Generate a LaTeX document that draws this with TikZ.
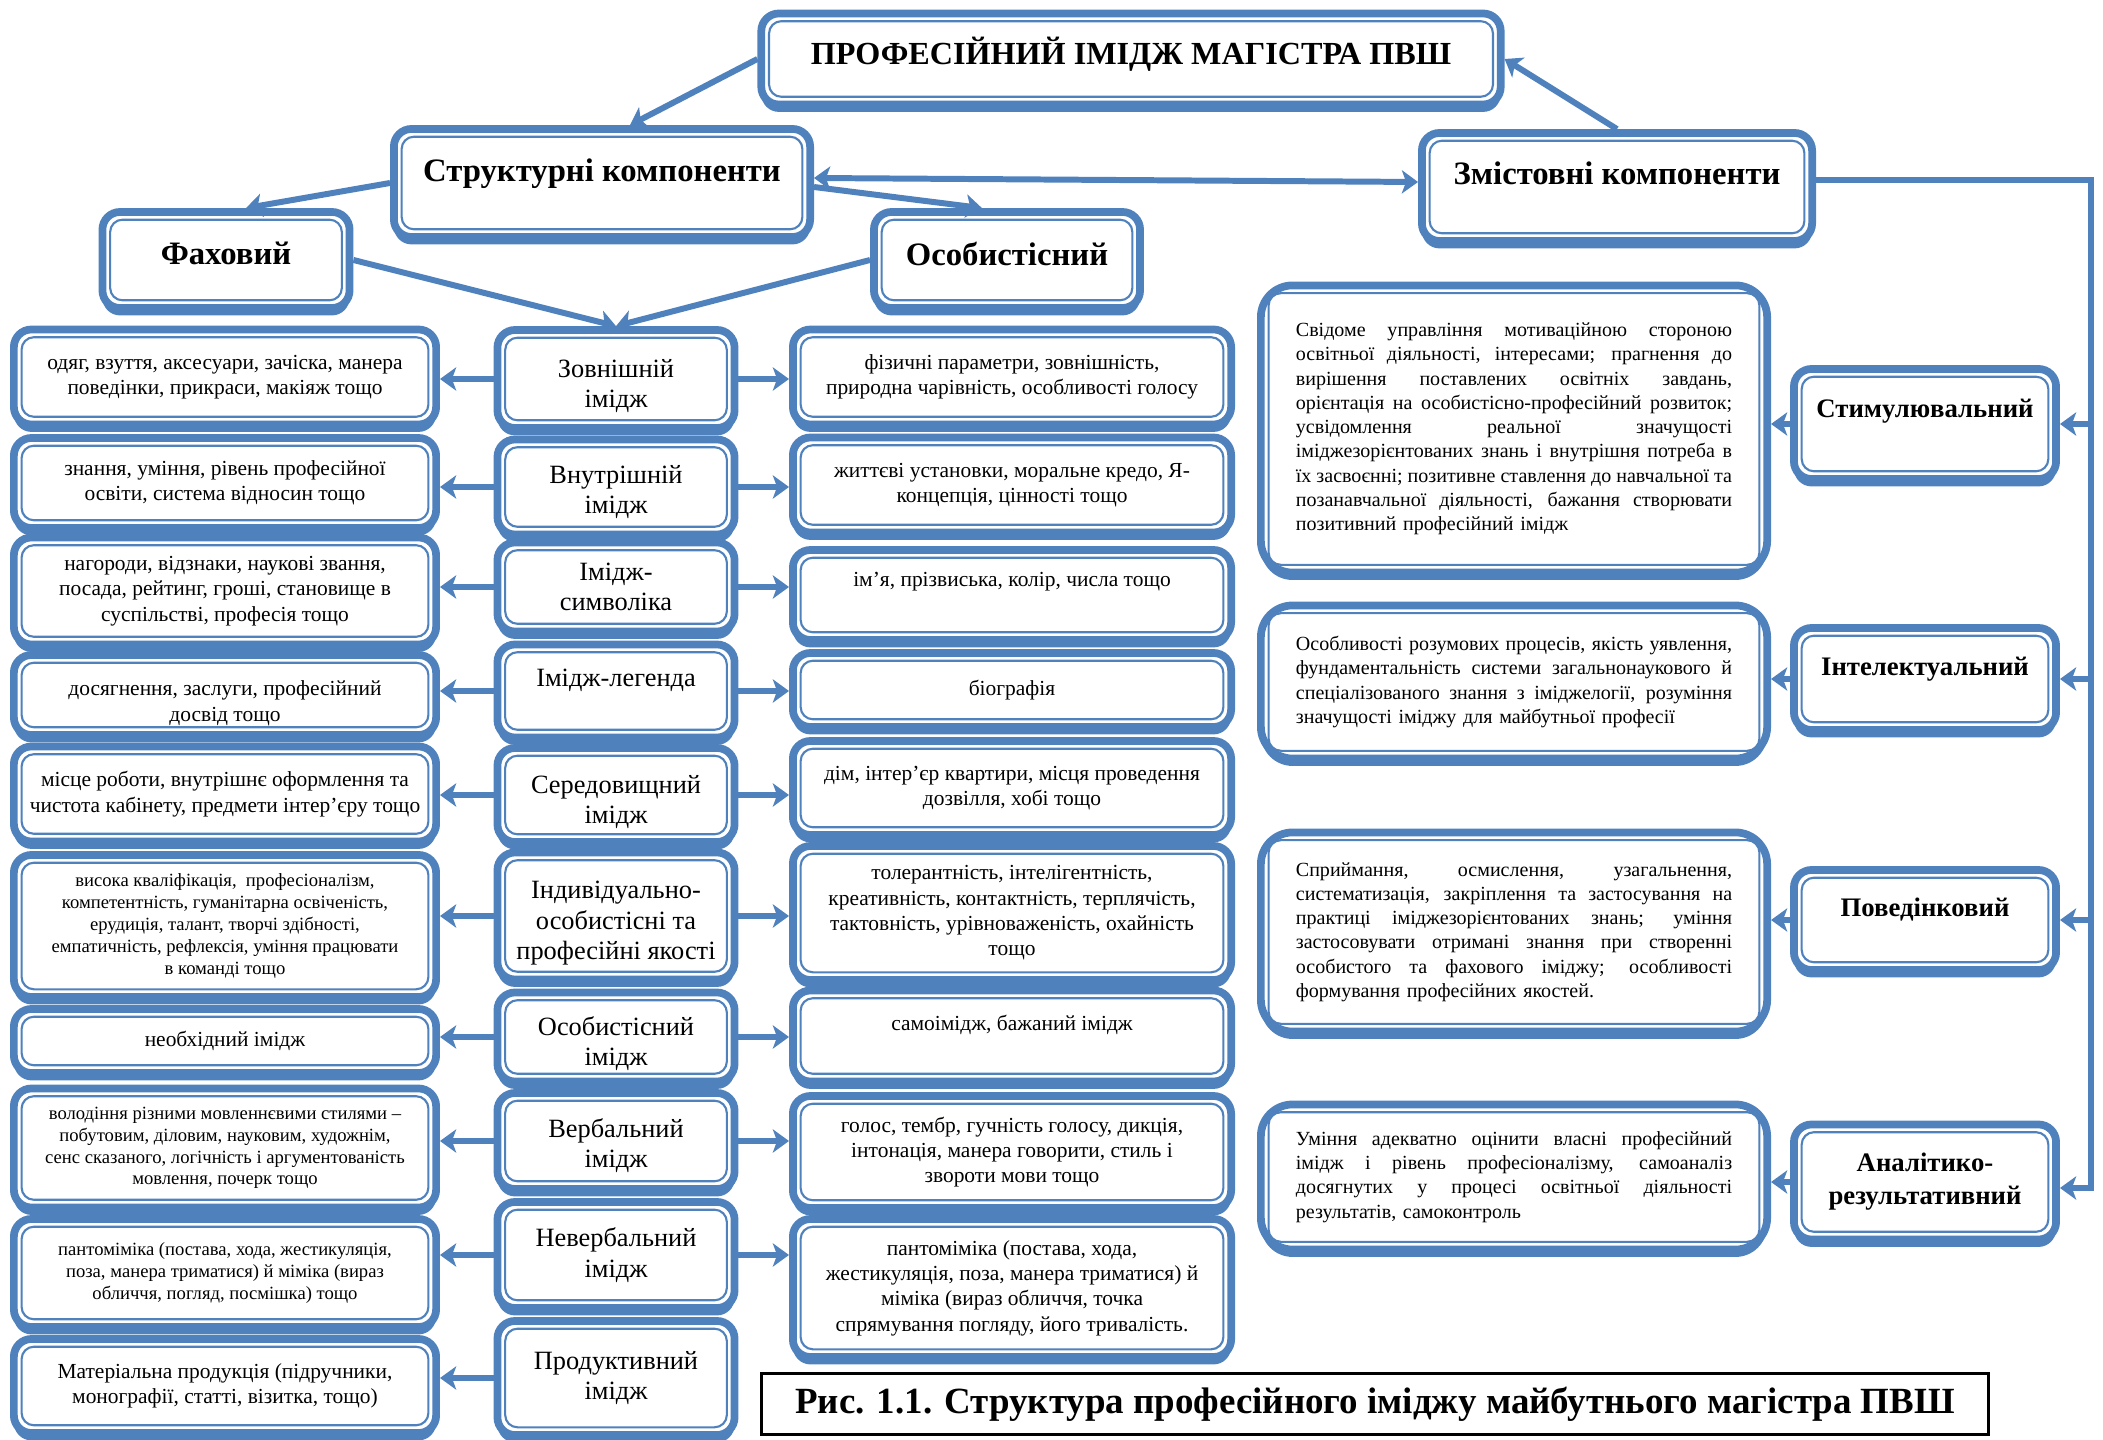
\documentclass[tikz,border=0pt]{standalone}
\usepackage{fontspec}
\setmainfont{Liberation Serif}
\usepackage{tikz}
\usetikzlibrary{arrows.meta,calc,shadows}

\definecolor{acc}{RGB}{79,129,189}
\newcommand{\fsTitle}{\fontsize{9.15}{11}\selectfont\bfseries}
\newcommand{\fsHead}{\fontsize{9.3}{11}\selectfont\bfseries}
\newcommand{\fsSub}{\fontsize{7.6}{9.4}\selectfont\bfseries}
\newcommand{\fsMid}{\fontsize{7.5}{8.6}\selectfont}
\newcommand{\fsSide}{\fontsize{6.1}{7.2}\selectfont}
\newcommand{\fsSmall}{\fontsize{5.3}{6.2}\selectfont}
\newcommand{\fsDesc}{\fontsize{5.7}{6.9}\selectfont}
\newcommand{\fsCap}{\fontsize{10.5}{12}\selectfont\bfseries}
% justified line and a strut that pushes text down
\newcommand{\jl}[1]{\makebox[\linewidth][s]{\spaceskip=0pt\xspaceskip=0pt\relax #1}}
\newcommand{\dn}[1]{\rule{0pt}{#1}}

\tikzset{
  bx/.style={draw=acc, line width=2.2pt, rounded corners=5pt, fill=white,
    align=center, inner sep=2pt,
    drop shadow={shadow xshift=0pt, shadow yshift=-2.1pt, fill=acc, opacity=1},
    path picture={\draw[acc, line width=0.6pt, rounded corners=3.5pt]
      ([shift={(2.2pt,2.2pt)}]path picture bounding box.south west) rectangle
      ([shift={(-2.2pt,-2.2pt)}]path picture bounding box.north east);}},
  head/.style={bx, font=\fsHead},
  sub/.style={bx, font=\fsSub, minimum width=2.62cm},
  lcol/.style={bx, font=\fsSide, minimum width=4.22cm},
  mcol/.style={bx, font=\fsMid, minimum width=2.37cm},
  rcol/.style={bx, font=\fsSide, minimum width=4.38cm},
  dbx/.style={bx, rounded corners=9pt, font=\fsDesc, align=left,
    text width=4.36cm, minimum width=5.06cm},
  arr/.style={draw=acc, line width=1.7pt, -{Stealth[length=4.6pt,width=6.6pt,inset=1.2pt]}},
  arr2/.style={arr, {Stealth[length=4.6pt,width=6.6pt,inset=1.2pt]}-{Stealth[length=4.6pt,width=6.6pt,inset=1.2pt]}},
}

\begin{document}
\begin{tikzpicture}[x=0.01cm,y=-0.01cm]
\useasboundingbox (0,0) rectangle (2103,1440);

% Top levels
\node[bx, font=\fsTitle, text depth=4.8pt, minimum width=7.39cm, minimum height=0.91cm] (title) at (1131,59) {ПРОФЕСІЙНИЙ ІМІДЖ МАГІСТРА ПВШ};
\node[head, text depth=7.3pt, minimum width=4.16cm, minimum height=1.08cm] (S) at (602,183) {Структурні компоненти};
\node[head, text depth=7.6pt, minimum width=3.90cm, minimum height=1.08cm] (Z) at (1617,187) {Змістовні компоненти};
\node[head, text depth=3.8pt, minimum width=2.47cm, minimum height=0.96cm] (F) at (226,260) {Фаховий};
\node[head, text depth=3.8pt, minimum width=2.66cm, minimum height=0.96cm] (O) at (1007,260) {Особистісний};

% Middle column
\node[mcol, minimum height=0.98cm] (m1) at (616,379) {\dn{9pt}Зовнішній\\імідж};
\node[mcol, minimum height=0.95cm] (m2) at (616,487) {\dn{8.2pt}Внутрішній\\імідж};
\node[mcol, minimum height=0.89cm] (m3) at (616,587) {Імідж-\\символіка};
\node[mcol, text depth=7.5pt, minimum height=0.93cm] (m4) at (616,691) {Імідж-легенда};
\node[mcol, minimum height=0.94cm] (m5) at (616,795) {\dn{9pt}Середовищний\\імідж};
\node[mcol, minimum height=1.27cm] (m6) at (616,916) {\dn{9pt}Індивідуально-\\особистісні та\\професійні якості};
\node[mcol, minimum height=0.89cm] (m7) at (616,1037) {\dn{9pt}Особистісний\\імідж};
\node[mcol, minimum height=0.96cm] (m8) at (616,1141) {\dn{8.2pt}Вербальний\\імідж};
\node[mcol, minimum height=1.06cm] (m9) at (616,1255) {Невербальний\\імідж};
\node[mcol, minimum height=1.14cm] (m10) at (616,1378) {Продуктивний\\імідж};

% Left column
\node[lcol, minimum height=0.95cm] (l1) at (225,377) {одяг, взуття, аксесуари, зачіска, манера\\поведінки, прикраси, макіяж тощо};
\node[lcol, minimum height=0.90cm] (l2) at (225,483) {знання, уміння, рівень професійної\\освіти, система відносин тощо};
\node[lcol, minimum height=1.07cm] (l3) at (225,591) {нагороди, відзнаки, наукові звання,\\посада, рейтинг, гроші, становище в\\суспільстві, професія тощо};
\node[lcol, minimum height=0.80cm] (l4) at (225,695) {\dn{8.9pt}досягнення, заслуги, професійний\\досвід тощо};
\node[lcol, minimum height=0.95cm] (l5) at (225,794) {місце роботи, внутрішнє оформлення та\\чистота кабінету, предмети інтер’єру тощо};
\node[lcol, font=\fsSmall, minimum height=1.42cm] (l6) at (225,926) {висока кваліфікація,\ \ професіоналізм,\\компетентність, гуманітарна освіченість,\\ерудиція, талант, творчі здібності,\\емпатичність, рефлексія, уміння працювати\\в команді тощо};
\node[lcol, minimum height=0.64cm] (l7) at (225,1041) {необхідний імідж};
\node[lcol, font=\fsSmall, minimum height=1.19cm] (l8) at (225,1148) {володіння різними мовленнєвими стилями –\\побутовим, діловим, науковим, художнім,\\сенс сказаного, логічність і аргументованість\\мовлення, почерк тощо};
\node[lcol, font=\fsSmall, minimum height=1.08cm] (l9) at (225,1273) {пантоміміка (постава, хода, жестикуляція,\\поза, манера триматися) й міміка (вираз\\обличчя, погляд, посмішка) тощо};
\node[lcol, minimum height=0.94cm] (l10) at (225,1386) {Матеріальна продукція (підручники,\\монографії, статті, візитка, тощо)};

% Right column
\node[rcol, minimum height=0.95cm] (r1) at (1012,377) {фізичні параметри, зовнішність,\\природна чарівність, особливості голосу};
\node[rcol, minimum height=0.95cm] (r2) at (1012,485) {життєві установки, моральне кредо, Я-\\концепція, цінності тощо};
\node[rcol, text depth=8.9pt, minimum height=0.90cm] (r3) at (1012,595) {ім’я, прізвиська, колір, числа тощо};
\node[rcol, minimum height=0.74cm] (r4) at (1012,690) {біографія};
\node[rcol, minimum height=0.94cm] (r5) at (1012,788) {дім, інтер’єр квартири, місця проведення\\дозвілля, хобі тощо};
\node[rcol, minimum height=1.34cm] (r6) at (1012,913) {толерантність, інтелігентність,\\креативність, контактність, терплячість,\\тактовність, урівноваженість, охайність\\тощо};
\node[rcol, text depth=7.3pt, minimum height=0.91cm] (r7) at (1012,1036) {самоімідж, бажаний імідж};
\node[rcol, minimum height=1.12cm] (r8) at (1012,1152) {голос, тембр, гучність голосу, дикція,\\інтонація, манера говорити, стиль і\\звороти мови тощо};
\node[rcol, minimum height=1.38cm] (r9) at (1012,1288) {пантоміміка (постава, хода,\\жестикуляція, поза, манера триматися) й\\міміка (вираз обличчя, точка\\спрямування погляду, його тривалість.};

% Content components
\node[sub, text depth=9.2pt, minimum height=1.10cm] (h1) at (1925,424) {Стимулювальний};
\node[sub, text depth=7pt, minimum height=1.02cm] (h2) at (1925,679) {Інтелектуальний};
\node[sub, text depth=7pt, minimum height=1.00cm] (h3) at (1925,920) {Поведінковий};
\node[sub, minimum height=1.15cm] (h4) at (1925,1182) {Аналітико-\\результативний};

\node[dbx, minimum height=2.87cm] (d1) at (1514,429) {%
\jl{Свідоме управління мотиваційною стороною}\\
\jl{освітньої діяльності, інтересами; прагнення до}\\
\jl{вирішення поставлених освітніх завдань,}\\
\jl{орієнтація на особистісно-професійний розвиток;}\\
\jl{усвідомлення реальної значущості}\\
\jl{іміджезорієнтованих знань і внутрішня потреба в}\\
\jl{їх засвоєнні; позитивне ставлення до навчальної та}\\
\jl{позанавчальної діяльності, бажання створювати}\\
позитивний професійний імідж};
\node[dbx, minimum height=1.53cm] (d2) at (1514,682) {%
\jl{Особливості розумових процесів, якість уявлення,}\\
\jl{фундаментальність системи загальнонаукового й}\\
\jl{спеціалізованого знання з іміджелогії, розуміння}\\
значущості іміджу для майбутньої професії};
\node[dbx, minimum height=1.99cm] (d3) at (1514,932) {%
\jl{Сприймання, осмислення, узагальнення,}\\
\jl{систематизація, закріплення та застосування на}\\
\jl{практиці іміджезорієнтованих знань; уміння}\\
\jl{застосовувати отримані знання при створенні}\\
\jl{особистого та фахового іміджу; особливості}\\
формування професійних якостей.};
\node[dbx, minimum height=1.45cm] (d4) at (1514,1177) {%
\jl{Уміння адекватно оцінити власні професійний}\\
\jl{імідж і рівень професіоналізму, самоаналіз}\\
\jl{досягнутих у процесі освітньої діяльності}\\
результатів, самоконтроль};

% Caption
\node[draw, line width=1pt, font=\fsCap, minimum width=12.26cm, minimum height=0.61cm, inner sep=2pt] (cap) at (1375,1404) {Рис. 1.1. Структура професійного іміджу майбутнього магістра ПВШ};

% Connectors
\draw[arr] (title.west) -- ([xshift=0.28cm]S.north);
\draw[arr] (Z.north) -- (title.east);
\draw[arr2] ([yshift=0.05cm]S.east) -- ([yshift=0.05cm]Z.west);
\draw[arr] (S.west) -- ([xshift=0.2cm]F.north);
\draw[arr] ([yshift=-0.04cm]S.east) -- ([xshift=-0.25cm]O.north);
\draw[arr] (F.east) -- (m1.north);
\draw[arr] (O.west) -- (m1.north);

\foreach \i in {1,...,10}
    \draw[arr] (m\i.west) -- (m\i.west -| l\i.east);
\foreach \i in {1,...,9}
    \draw[arr] (m\i.east) -- (m\i.east -| r\i.west);

\coordinate (rail) at (2091,1188);
\draw[arr] ([yshift=0.07cm]Z.east) -| (rail) -- (rail -| h4.east);
\foreach \i in {1,2,3}
    \draw[arr] (h\i.east -| rail) -- (h\i.east);
\foreach \i in {1,...,4}
    \draw[arr] (h\i.west) -- (h\i.west -| d\i.east);
\end{tikzpicture}
\end{document}
